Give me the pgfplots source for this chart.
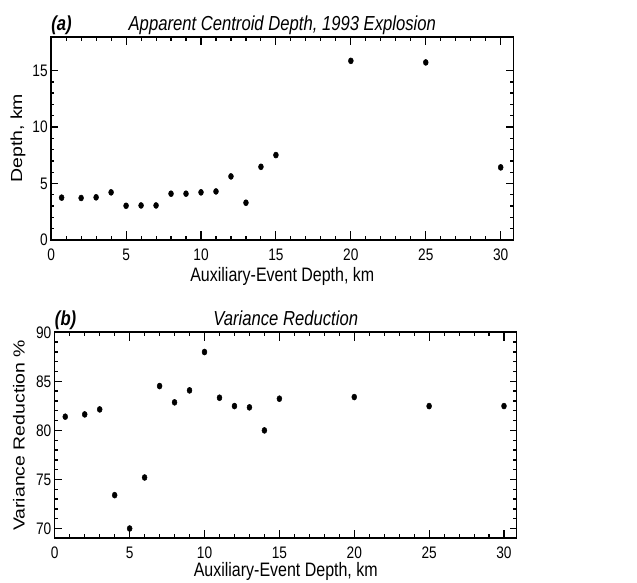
\documentclass[border=0pt]{standalone}
\usepackage{graphicx}
\usepackage{fontspec}
\setmainfont{Liberation Sans}
\usepackage{pgfplots}
\pgfplotsset{compat=1.18}

\begin{document}
\scalebox{0.8215}[1]{%
\begin{tikzpicture}
\useasboundingbox (0,0) rectangle (581.5pt,436.5pt);
\pgfplotsset{
 myax/.style={
  scale only axis, anchor=south west,
  xmin=0, xmax=30.85, xtick={0,5,...,30}, minor x tick num=4,
  tick align=inside, major tick length=6.4pt, minor tick length=3pt,
  axis line style={line width=1.3pt},
  every tick/.style={black, line width=1pt},
  /pgf/number format/assume math mode=true,
  tick label style={font=\fontsize{12.5}{14}\selectfont},
  yticklabel style={inner sep=0pt, xshift=-3pt},
  xticklabel style={inner sep=0pt, yshift=-6.5pt},
  clip=false,
 }
}
% (a)
\begin{axis}[myax, at={(46.7pt,256.5pt)}, width=422pt, height=152.5pt,
  ymin=0, ymax=18, ytick={0,5,10,15}, minor y tick num=4]
\addplot[only marks, mark=*, mark size=2.25pt, black] coordinates {
 (0.7,3.75) (2,3.72) (3,3.78) (4,4.22) (5,3.03) (6,3.06) (7,3.06)
 (8,4.1) (9,4.1) (10,4.22) (11,4.3) (12,5.63) (13,3.3) (14,6.48)
 (15,7.52) (20,15.86) (25,15.72) (30,6.43)
};
\node[anchor=base west, inner sep=0pt, yshift=5pt, font=\fontsize{15.2}{18}\selectfont\bfseries\itshape] at (rel axis cs:0,1) {(a)};
\node[anchor=base, inner sep=0pt, yshift=5pt, font=\fontsize{15.2}{18}\selectfont\itshape] at (rel axis cs:0.5,1) {Apparent Centroid Depth, 1993 Explosion};
\node[anchor=base, inner sep=0pt, yshift=-31.3pt, font=\fontsize{14.6}{17}\selectfont] at (rel axis cs:0.5,0) {Auxiliary-Event Depth, km};
\node[anchor=base, rotate=90, inner sep=0pt, font=\fontsize{14.6}{17}\selectfont] at ([xshift=-26.5pt]rel axis cs:0,0.5) {Depth, km};
\end{axis}
% (b)
\begin{axis}[myax, at={(50pt,32.8pt)}, width=421.7pt, height=154.5pt,
  ymin=69, ymax=90, ytick={70,75,80,85,90}, minor y tick num=4]
\addplot[only marks, mark=*, mark size=2.25pt, black] coordinates {
 (0.7,81.4) (2,81.63) (3,82.14) (4,73.4) (5,70.0) (6,75.2) (7,84.52)
 (8,82.86) (9,84.08) (10,87.99) (11,83.33) (12,82.48) (13,82.35)
 (14,80.0) (15,83.23) (20,83.4) (25,82.48) (30,82.48)
};
\node[anchor=base west, inner sep=0pt, yshift=5.3pt, font=\fontsize{15.2}{18}\selectfont\bfseries\itshape] at (rel axis cs:0,1) {(b)};
\node[anchor=base, inner sep=0pt, yshift=5.3pt, font=\fontsize{15.2}{18}\selectfont\itshape] at (rel axis cs:0.5,1) {Variance Reduction};
\node[anchor=base, inner sep=0pt, yshift=-29pt, font=\fontsize{14.6}{17}\selectfont] at (rel axis cs:0.5,0) {Auxiliary-Event Depth, km};
\node[anchor=base, rotate=90, inner sep=0pt, font=\fontsize{14.6}{17}\selectfont] at ([xshift=-27.5pt]rel axis cs:0,0.5) {Variance Reduction \%};
\end{axis}
\end{tikzpicture}}
\end{document}
